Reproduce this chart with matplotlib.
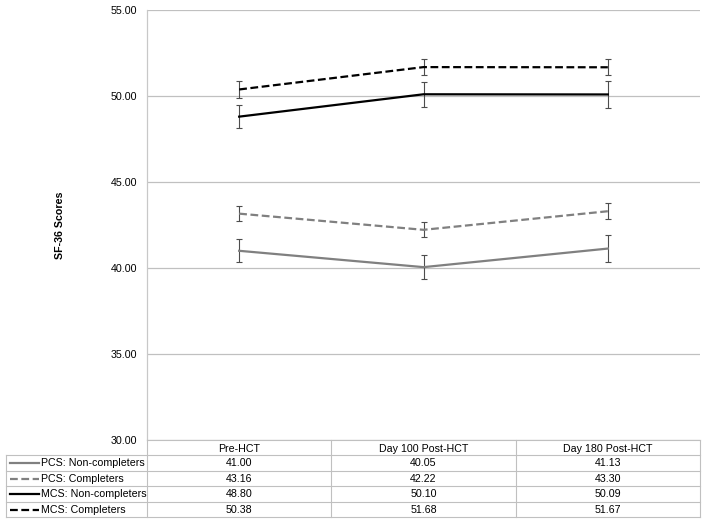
import numpy as np
import matplotlib
matplotlib.use("Agg")
from matplotlib import pyplot as plt

plt.rcParams['font.family'] = ['Liberation Sans', 'DejaVu Sans']

categories = ['Pre-HCT', 'Day 100 Post-HCT', 'Day 180 Post-HCT']
series_names = ['PCS: Non-completers', 'PCS: Completers',
                'MCS: Non-completers', 'MCS: Completers']
pcs_non = [41.00, 40.05, 41.13]
pcs_comp = [43.16, 42.22, 43.30]
mcs_non = [48.80, 50.10, 50.09]
mcs_comp = [50.38, 51.68, 51.67]
# error bar half-widths
pcs_non_err = [0.66, 0.70, 0.78]
pcs_comp_err = [0.45, 0.43, 0.46]
mcs_non_err = [0.65, 0.72, 0.80]
mcs_comp_err = [0.47, 0.46, 0.47]
yticks = [30, 35, 40, 45, 50, 55]

values = [pcs_non, pcs_comp, mcs_non, mcs_comp]
errors = [pcs_non_err, pcs_comp_err, mcs_non_err, mcs_comp_err]
colors = ['#808080', '#808080', '#000000', '#000000']
dashed = [False, True, False, True]

W, H = 704, 524
fig = plt.figure(figsize=(W / 100, H / 100), dpi=100)
x0, x1, ytop, ybot = 147, 700, 10, 440
ax = fig.add_axes([x0 / W, 1 - ybot / H, (x1 - x0) / W, (ybot - ytop) / H])

x = np.arange(len(categories))
for vals, errs, c, d in zip(values, errors, colors, dashed):
    ax.errorbar(x, vals, yerr=errs, fmt='none', ecolor='#4d4d4d',
                elinewidth=0.8, capsize=2.2, capthick=0.8, zorder=2)
    ln, = ax.plot(x, vals, color=c, lw=1.6, zorder=3)
    if d:
        ln.set_dashes((3.5, 1.6))

ax.set_xlim(-0.5, len(categories) - 0.5)
ax.set_ylim(30, 55)
ax.set_yticks(yticks)
ax.set_yticklabels([f'{t:.2f}' for t in yticks], fontsize=7.7)
ax.tick_params(axis='y', length=0, pad=7)
ax.set_xticks([])
ax.grid(axis='y', color='#c0c0c0', lw=0.9)
ax.set_axisbelow(True)
for s in ['top', 'right', 'bottom']:
    ax.spines[s].set_visible(False)
ax.spines['left'].set_color('#c8c8c8')
ax.spines['left'].set_linewidth(0.9)
fig.text(60 / W, 1 - 225 / H, 'SF-36 Scores', rotation=90, fontsize=7.7,
         fontweight='bold', ha='center', va='center')

# data table drawn in pixel space below the plot
ov = fig.add_axes([0, 0, 1, 1], facecolor='none')
ov.set_xlim(0, W)
ov.set_ylim(H, 0)
ov.axis('off')
fig.canvas.draw()
col_x = [ax.transData.transform((i, 30))[0] for i in x]
col_w = (x1 - x0) / len(categories)
tl, row_h, head_b = 6, 15.5, 455
lc = '#c0c0c0'
bounds = [x0 + i * col_w for i in range(len(categories) + 1)]
table_bot = head_b + row_h * len(series_names)
for b in bounds:
    ov.plot([b, b], [ybot, table_bot], color=lc, lw=0.8)
ov.plot([x0, x1], [ybot, ybot], color=lc, lw=0.8)
ov.plot([tl, tl], [head_b, table_bot], color=lc, lw=0.8)
for r in range(len(series_names) + 1):
    yy = head_b + r * row_h
    ov.plot([tl, x1], [yy, yy], color=lc, lw=0.8)
for cx, cat in zip(col_x, categories):
    ov.text(cx, (ybot + head_b) / 2 + 1, cat, fontsize=7.7, ha='center', va='center')
for r, (name, vals, c, d) in enumerate(zip(series_names, values, colors, dashed)):
    yc = head_b + (r + 0.5) * row_h + 0.5
    ln, = ov.plot([10, 39], [yc, yc], color=c, lw=1.6)
    if d:
        ln.set_dashes((3.5, 1.6))
    ov.text(41, yc, name, fontsize=7.7, ha='left', va='center')
    for cx, v in zip(col_x, vals):
        ov.text(cx, yc, f'{v:.2f}', fontsize=7.7, ha='center', va='center')

fig.savefig('out.png', dpi=100)
